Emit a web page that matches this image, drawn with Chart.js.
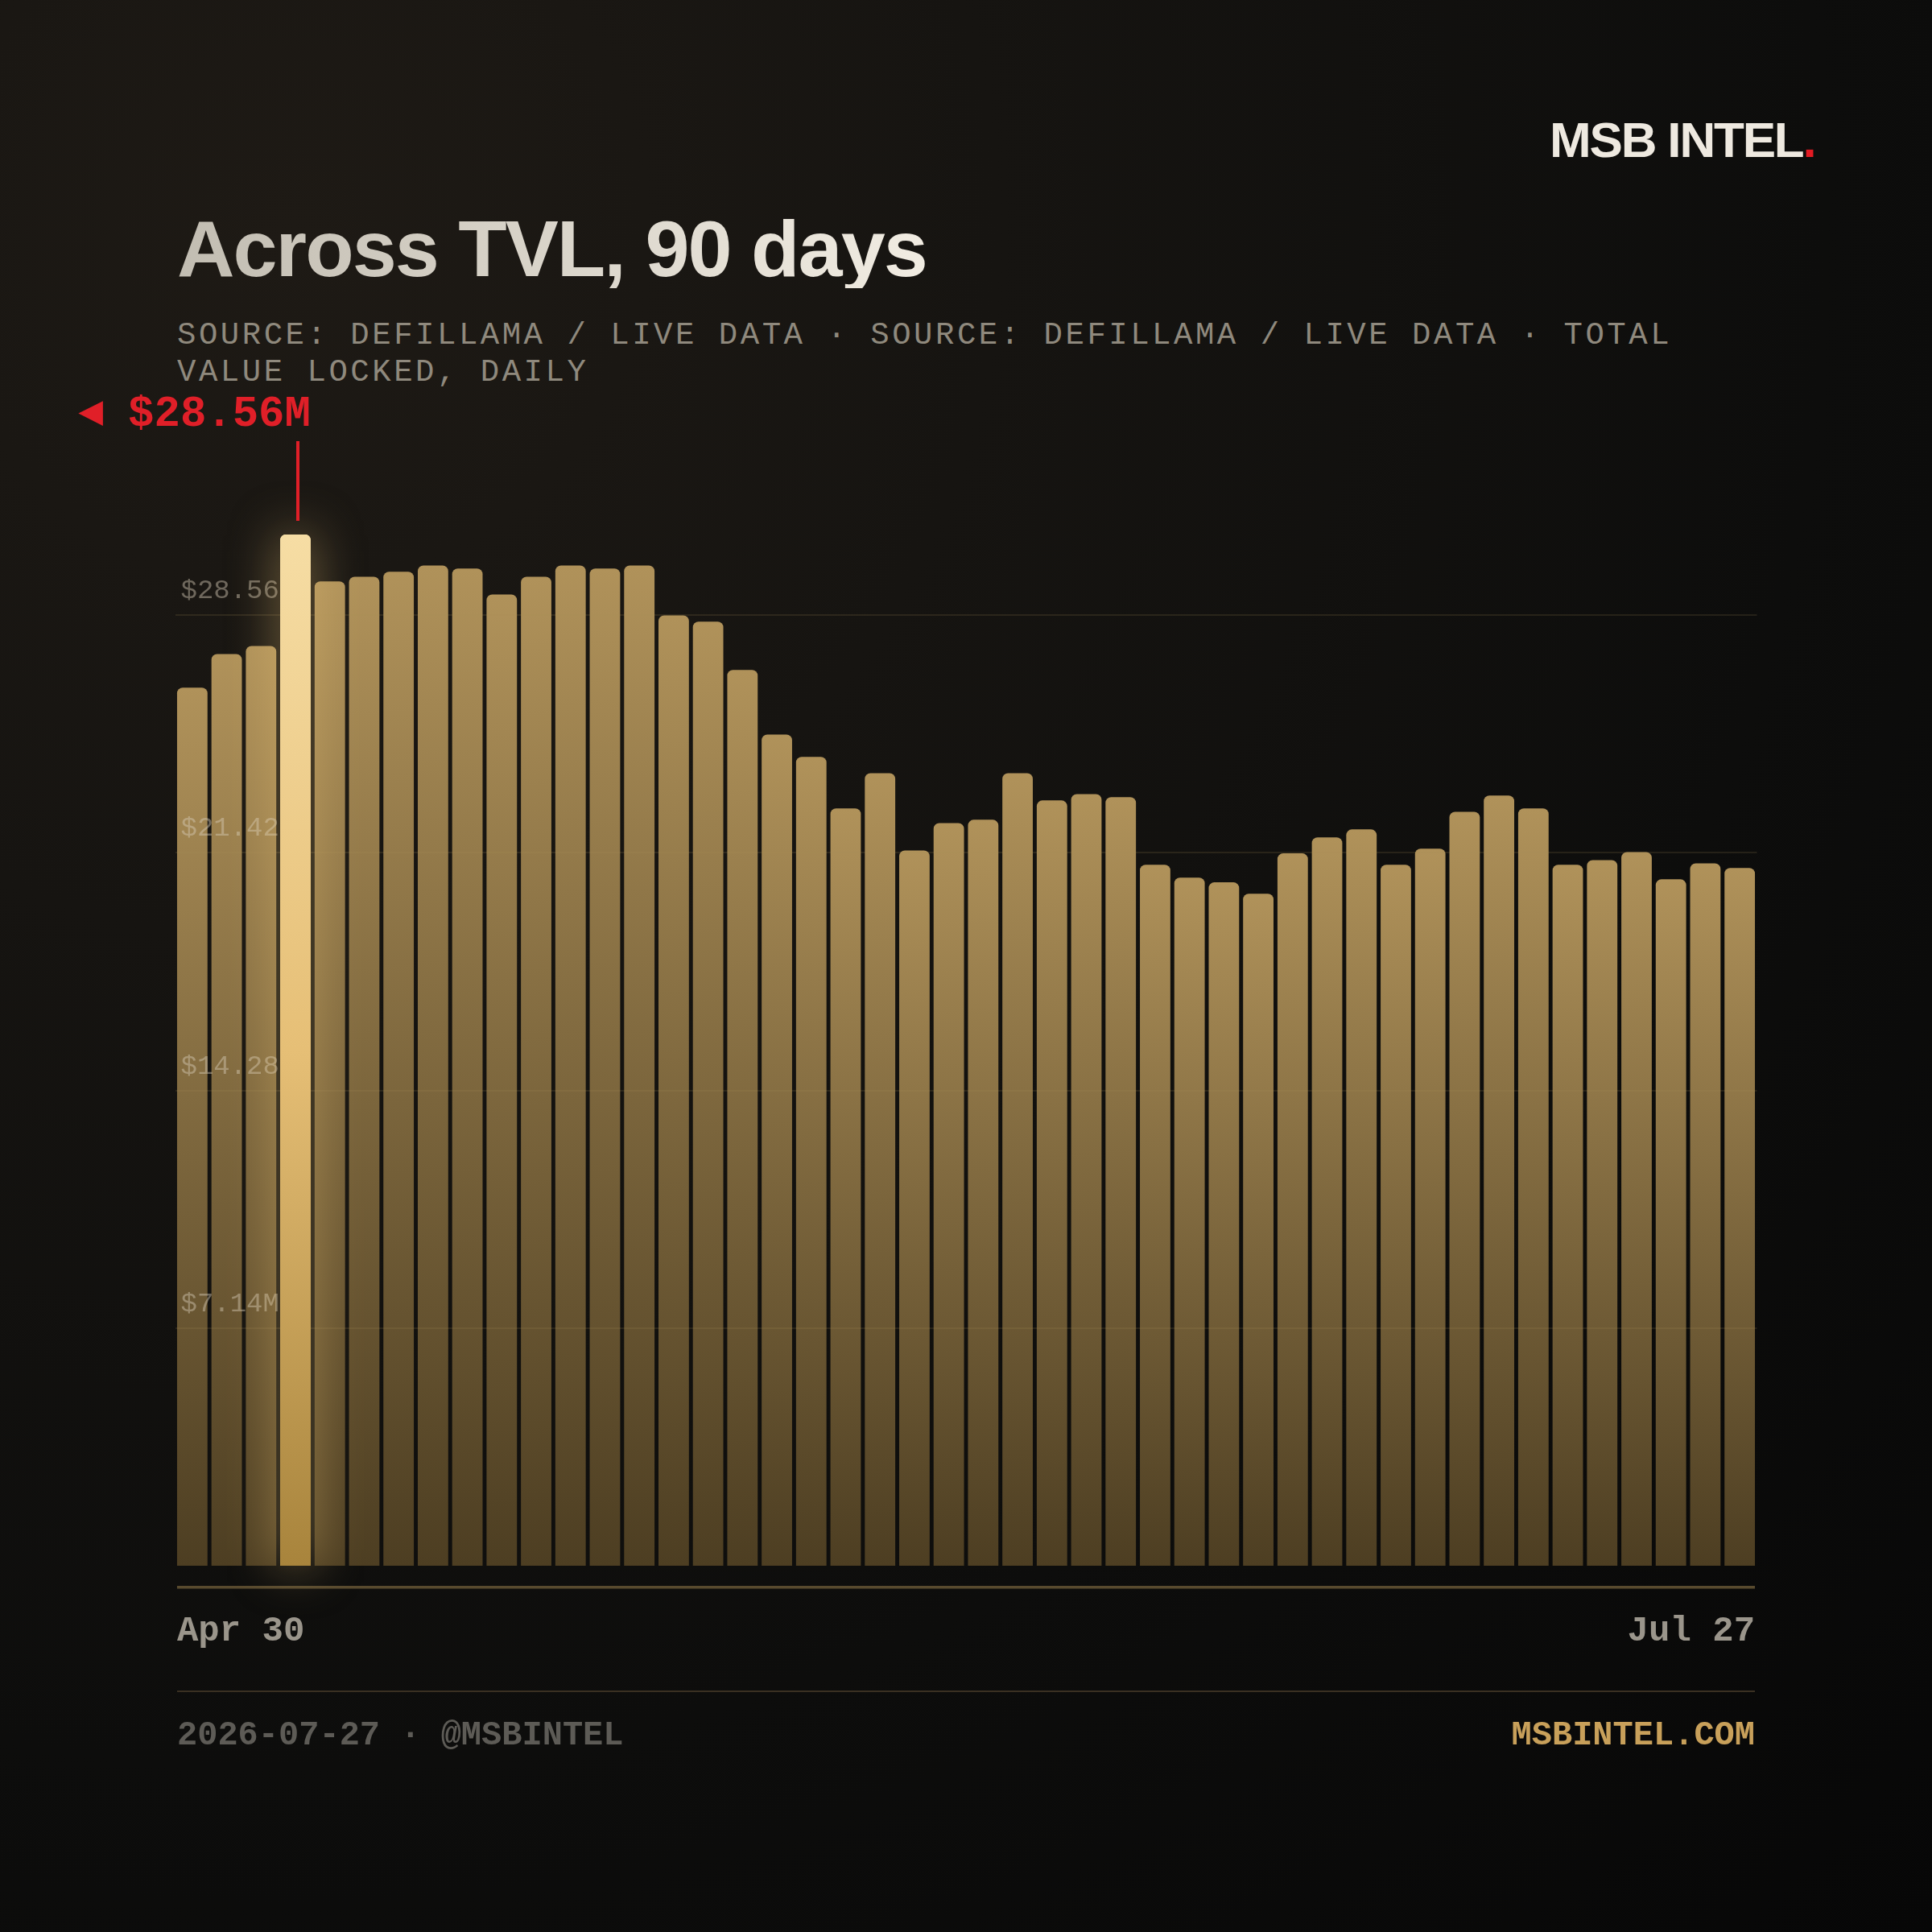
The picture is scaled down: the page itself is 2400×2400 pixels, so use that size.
<!DOCTYPE html>
<html>
<head>
<meta charset="utf-8">
<script src="https://cdn.jsdelivr.net/npm/chart.js@4.4.1/dist/chart.umd.min.js"></script>
<style>
    html, body { margin: 0; padding: 0; }
    body {
        width: 2400px; height: 2400px; position: relative; overflow: hidden;
        background: radial-gradient(circle at 15% 12%, #1e1a15 0%, #161411 30%, #0d0d0c 65%, #070707 100%);
    }
    .abs { position: absolute; white-space: nowrap; }
    #logo { left: 1925px; top: 143px; font: bold 62px "Liberation Sans", Arial, sans-serif; letter-spacing: -0.035em; line-height: 1; color: #eee9e0; }
    #logo span { color: #e31b23; }
    #title {
        left: 220px; top: 259px; font: bold 99px "Liberation Sans", Arial, sans-serif; letter-spacing: -0.02em; line-height: 1;
        background: linear-gradient(90deg, #c2bdb2, #f1ece2); -webkit-background-clip: text; background-clip: text; color: transparent;
    }
    #sub { left: 220px; top: 394px; width: 1960px; white-space: normal; font: 39px "Liberation Mono", monospace; letter-spacing: 0.09em; line-height: 46px; color: #8f897d; }
    #rule { left: 220px; top: 2100px; width: 1960px; height: 2px; background: #3a3022; }
    .foot { top: 2135px; font: bold 42px "Liberation Mono", monospace; line-height: 1; }
    #footL { left: 220px; color: #5d5b56; }
    #footR { right: 220px; color: #c8a05a; }
    canvas { position: absolute; left: 0; top: 0; }
</style>
</head>
<body>
<div id="logo" class="abs">MSB INTEL<span>.</span></div>
<div id="title" class="abs">Across TVL, 90 days</div>
<div id="sub" class="abs">SOURCE: DEFILLAMA / LIVE DATA · SOURCE: DEFILLAMA / LIVE DATA · TOTAL VALUE LOCKED, DAILY</div>
<canvas id="tvlChart" width="2400" height="2400"></canvas>
<div id="rule" class="abs"></div>
<div id="footL" class="abs foot">2026-07-27 · @MSBINTEL</div>
<div id="footR" class="abs foot">MSBINTEL.COM</div>

<script>
// --- data ---
const days = ['Apr 30', 'May 2', 'May 4', 'May 6', 'May 8', 'May 10', 'May 12', 'May 14', 'May 16', 'May 18',
    'May 20', 'May 22', 'May 24', 'May 26', 'May 28', 'May 30', 'Jun 1', 'Jun 3', 'Jun 5', 'Jun 7',
    'Jun 9', 'Jun 11', 'Jun 13', 'Jun 15', 'Jun 17', 'Jun 19', 'Jun 21', 'Jun 23', 'Jun 25', 'Jun 27',
    'Jun 29', 'Jul 1', 'Jul 3', 'Jul 5', 'Jul 7', 'Jul 9', 'Jul 11', 'Jul 13', 'Jul 15', 'Jul 17',
    'Jul 19', 'Jul 21', 'Jul 23', 'Jul 25', 'Jul 26', 'Jul 27'];

// TVL in $M
const tvl = [26.38, 27.39, 27.63, 30.98, 29.57, 29.71, 29.86, 30.05, 29.96, 29.18,
    29.71, 30.05, 29.96, 30.05, 28.55, 28.36, 26.91, 24.97, 24.30, 22.75,
    23.81, 21.49, 22.31, 22.41, 23.81, 22.99, 23.18, 23.09, 21.06, 20.67,
    20.53, 20.19, 21.40, 21.88, 22.12, 21.06, 21.54, 22.65, 23.14, 22.75,
    21.06, 21.20, 21.44, 20.62, 21.10, 20.96];

const yTicks = [7.14, 14.28, 21.42, 28.56];
const peakLabel = '$28.56M';

const peakIdx = tvl.indexOf(Math.max(...tvl));

// gradient per bar, from its top to the baseline
function barFill(c) {
    const chart = c.chart;
    const isPeak = c.dataIndex === peakIdx;
    if (!chart.chartArea || c.type !== 'data') return isPeak ? '#ecc57e' : '#8c7246';
    const y = chart.scales.y;
    const top = y.getPixelForValue(tvl[c.dataIndex]);
    const bottom = y.getPixelForValue(0);
    const g = chart.ctx.createLinearGradient(0, top, 0, bottom);
    if (isPeak) {
        g.addColorStop(0, '#f6dda4');
        g.addColorStop(0.5, '#e6bf76');
        g.addColorStop(1, '#a8843c');
    } else {
        g.addColorStop(0, '#b0925a');
        g.addColorStop(1, '#4d3e22');
    }
    return g;
}

// axis line, end labels, glowing peak bar and its marker
const overlay = {
    id: 'overlay',
    afterDraw(chart) {
        const ctx = chart.ctx;
        const meta = chart.getDatasetMeta(0);
        const first = meta.data[0];
        const last = meta.data[meta.data.length - 1];
        const left = first.x - first.width / 2;
        const right = last.x + last.width / 2;
        const base = chart.scales.y.getPixelForValue(0);

        ctx.save();
        ctx.fillStyle = '#584a2e';
        ctx.fillRect(left, base + 25, right - left, 3.5);

        ctx.font = 'bold 44px "Liberation Mono"';
        ctx.fillStyle = '#9a958b';
        ctx.textBaseline = 'alphabetic';
        ctx.textAlign = 'left';
        ctx.fillText(days[0], left, base + 93);
        ctx.textAlign = 'right';
        ctx.fillText(days[days.length - 1], right, base + 93);

        const bar = meta.data[peakIdx];
        ctx.shadowColor = 'rgba(240,200,120,0.5)';
        ctx.shadowBlur = 60;
        bar.draw(ctx);
        ctx.shadowBlur = 0;
        ctx.shadowColor = 'transparent';
        bar.draw(ctx);

        ctx.fillStyle = '#e01f28';
        ctx.fillRect(bar.x + 1, bar.y - 116, 4, 99);

        const textRight = bar.x + bar.width / 2;
        ctx.font = 'bold 54px "Liberation Mono"';
        ctx.textAlign = 'right';
        ctx.fillText(peakLabel, textRight, bar.y - 135);
        const w = ctx.measureText(peakLabel).width;
        ctx.font = '40px "DejaVu Sans"';
        ctx.textBaseline = 'middle';
        ctx.fillText('◀', textRight - w - 31, bar.y - 150);
        ctx.restore();
    }
};

new Chart(document.getElementById('tvlChart'), {
    type: 'bar',
    data: {
        labels: days,
        datasets: [{
            data: tvl,
            backgroundColor: barFill,
            borderRadius: 7,
            borderSkipped: 'start',
            barPercentage: 0.885,
            categoryPercentage: 1
        }]
    },
    options: {
        responsive: false,
        animation: false,
        devicePixelRatio: 1,
        layout: { padding: { left: 217.5, right: 217.5, top: 621.8, bottom: 455 } },
        plugins: { legend: { display: false }, tooltip: { enabled: false } },
        scales: {
            x: { display: false, offset: true },
            y: {
                min: 0,
                max: 32,
                afterFit: s => { s.width = 0; },
                afterBuildTicks: s => { s.ticks = yTicks.map(v => ({ value: v })); },
                border: { display: false },
                // grid and labels sit on top of the bars
                grid: { z: 1, color: 'rgba(170,140,90,0.16)', lineWidth: 2, drawTicks: false },
                ticks: {
                    z: 1,
                    mirror: true,
                    padding: 7,
                    labelOffset: -30,
                    color: 'rgba(215,205,185,0.45)',
                    font: { family: 'Liberation Mono', size: 34 },
                    callback: v => '$' + Number(v).toFixed(2) + 'M'
                }
            }
        }
    },
    plugins: [overlay]
});
</script>
</body>
</html>
